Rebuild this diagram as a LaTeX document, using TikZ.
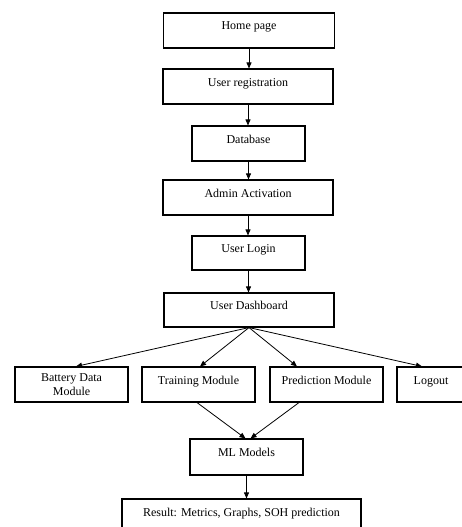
\documentclass[tikz,border=0pt]{standalone}
\usepackage{fontspec}
\setmainfont{Liberation Serif}
\usetikzlibrary{arrows.meta}

\tikzset{
  box/.style={draw, line width=1.1pt, inner sep=0pt, font=\fontsize{12}{14}\selectfont},
  boxtop/.style={box, text height=9pt, text depth=10pt},
  flow/.style={-{Triangle[length=6pt,width=5pt]}, line width=0.8pt}
}

\begin{document}
\begin{tikzpicture}[x=1pt,y=-1pt]
% page frame
\useasboundingbox (0,0) rectangle (462,527);
\clip (0,0) rectangle (462,527);

% main column
\node[boxtop, minimum width=171pt, minimum height=35pt] (home) at (249,30.5) {Home page};
\node[boxtop, minimum width=170pt, minimum height=35pt] (reg) at (248,86.5) {User registration};
\node[boxtop, minimum width=113pt, minimum height=35pt] (db) at (248.5,143.5) {Database};
\node[boxtop, minimum width=170pt, minimum height=35pt] (admin) at (248,197.5) {Admin Activation};
\node[boxtop, minimum width=113pt, minimum height=34pt] (login) at (248.5,253) {User Login};
\node[boxtop, minimum width=170pt, minimum height=34pt] (dash) at (249,310) {User Dashboard};

% modules
\node[box, align=center, minimum width=113pt, minimum height=35pt] (battery) at (71.5,384.5) {Battery Data\\Module};
\node[boxtop, minimum width=113pt, minimum height=35pt] (train) at (198.5,384.5) {Training Module};
\node[boxtop, minimum width=113pt, minimum height=35pt] (pred) at (326.5,384.5) {Prediction Module};
\node[boxtop, minimum width=68pt, minimum height=35pt] (logout) at (431,384.5) {Logout};

% models and result
\node[boxtop, minimum width=113pt, minimum height=36pt] (ml) at (246.5,457) {ML Models};
\node[boxtop, minimum width=239pt, minimum height=35pt] (result) at (241.5,516.5) {Result: Metrics, Graphs, SOH prediction};

% arrows down the column
\draw[flow] (home) -- (home |- reg.north);
\draw[flow] (reg) -- (reg |- db.north);
\draw[flow] (db) -- (db |- admin.north);
\draw[flow] (admin) -- (admin |- login.north);
\draw[flow] (login) -- (login |- dash.north);

% dashboard to modules
\draw[flow] (dash.south) -- ([xshift=4.5pt]battery.north);
\draw[flow] (dash.south) -- ([xshift=1.5pt]train.north);
\draw[flow] (dash.south) -- ([xshift=-29.5pt]pred.north);
\draw[flow] (dash.south) -- ([xshift=-9pt]logout.north);

% modules to models
\draw[flow] ([xshift=-1.5pt]train.south) -- ([xshift=-1pt]ml.north);
\draw[flow] ([xshift=-27.5pt]pred.south) -- ([xshift=4pt]ml.north);
\draw[flow] (ml) -- (ml |- result.north);
\end{tikzpicture}
\end{document}
